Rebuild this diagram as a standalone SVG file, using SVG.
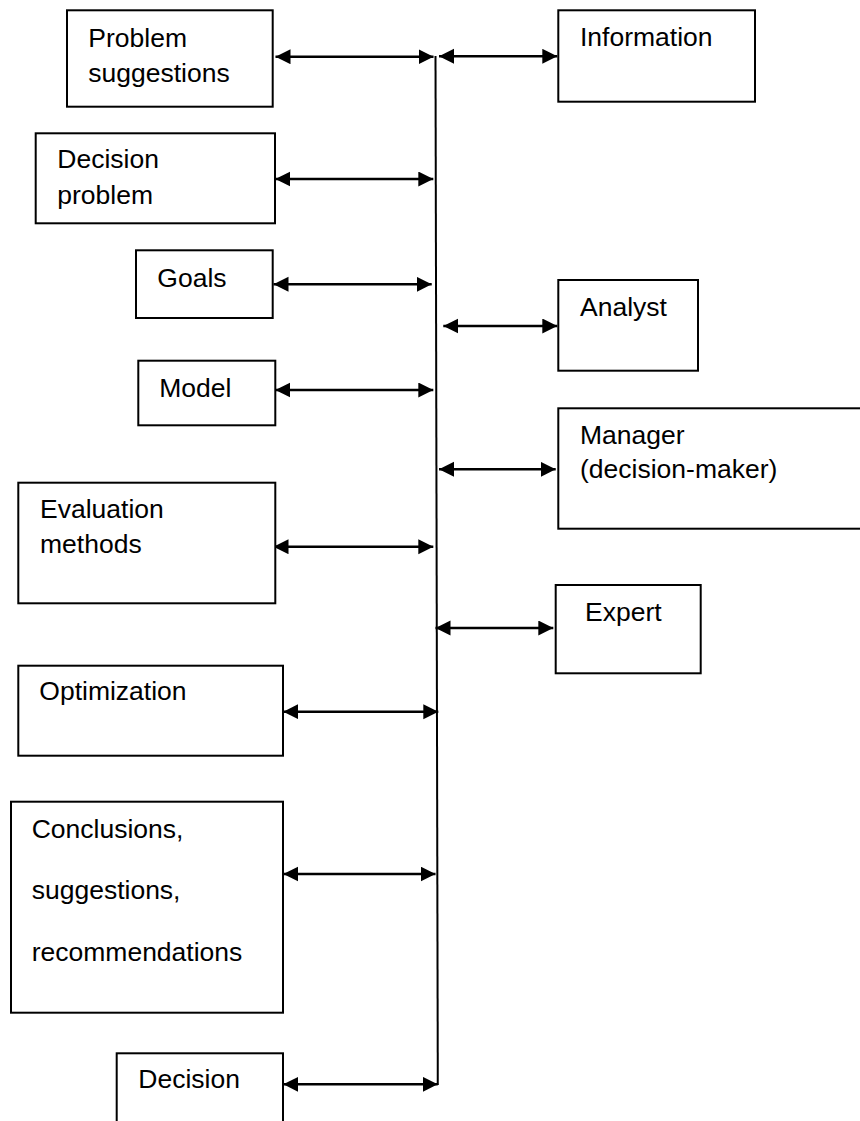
<svg xmlns="http://www.w3.org/2000/svg" width="860" height="1121" viewBox="0 0 860 1121">
<style>
.box{fill:#fff;stroke:#000;stroke-width:2}
.t{font-family:"Liberation Sans",Arial,sans-serif;font-size:26.5px;fill:#000}
.c{stroke:#000;stroke-width:2.5;fill:none;marker-start:url(#ah);marker-end:url(#ah)}
.v{stroke:#000;stroke-width:2;fill:none}
</style>
<defs>
<marker id="ah" markerUnits="userSpaceOnUse" markerWidth="16" markerHeight="16" refX="15" refY="7.5" orient="auto-start-reverse">
<path d="M0,0 L15,7.5 L0,15 z" fill="#000"/>
</marker>
</defs>
<rect width="860" height="1121" fill="#fff"/>
<g id="connectors">
<path class="v" d="M435.5,56 L437.8,1085"/>
<path class="c" d="M275.5,56.7 L433.5,56.7"/>
<path class="c" d="M439,56.3 L557.3,56.3"/>
<path class="c" d="M275.3,179 L433.3,179"/>
<path class="c" d="M273.5,284.3 L431.7,284.3"/>
<path class="c" d="M275.3,390 L433.3,390"/>
<path class="c" d="M443.3,326 L557.3,326"/>
<path class="c" d="M439,469.3 L555.7,469.3"/>
<path class="c" d="M273.5,546.7 L433.3,546.7"/>
<path class="c" d="M435.5,628 L553.3,628"/>
<path class="c" d="M283.3,711.7 L438.3,711.7"/>
<path class="c" d="M283.3,874 L435.5,874"/>
<path class="c" d="M283.3,1084.3 L437.7,1084.3"/>
</g>
<g id="problem-suggestions">
<rect class="box" x="67" y="10.3" width="205.7" height="96.4"/>
<text class="t" x="88.3" y="46.7">Problem</text>
<text class="t" x="88.3" y="81.7">suggestions</text>
</g>
<g id="decision-problem">
<rect class="box" x="35.7" y="133.3" width="239.3" height="90"/>
<text class="t" x="57.3" y="168.3">Decision</text>
<text class="t" x="57.3" y="204">problem</text>
</g>
<g id="goals">
<rect class="box" x="136" y="250.3" width="136.7" height="67.7"/>
<text class="t" x="157.3" y="286.7">Goals</text>
</g>
<g id="model">
<rect class="box" x="138.3" y="360.7" width="137" height="64.6"/>
<text class="t" x="159.3" y="396.7">Model</text>
</g>
<g id="evaluation-methods">
<rect class="box" x="18.3" y="482.7" width="257" height="120.6"/>
<text class="t" x="40" y="518.3">Evaluation</text>
<text class="t" x="40" y="553.3">methods</text>
</g>
<g id="optimization">
<rect class="box" x="18.3" y="665.7" width="264.7" height="90"/>
<text class="t" x="39.3" y="700">Optimization</text>
</g>
<g id="conclusions">
<rect class="box" x="11" y="801.7" width="272" height="211"/>
<text class="t" x="31.7" y="838.3">Conclusions,</text>
<text class="t" x="31.7" y="898.7">suggestions,</text>
<text class="t" x="31.7" y="960.7">recommendations</text>
</g>
<g id="decision">
<rect class="box" x="116.7" y="1053.3" width="166.3" height="90"/>
<text class="t" x="138.3" y="1088.3">Decision</text>
</g>
<g id="information">
<rect class="box" x="558.3" y="10.3" width="196.7" height="91.4"/>
<text class="t" x="580" y="45.7">Information</text>
</g>
<g id="analyst">
<rect class="box" x="558.3" y="280" width="139.7" height="90.7"/>
<text class="t" x="580" y="316">Analyst</text>
</g>
<g id="manager">
<rect class="box" x="558.3" y="408.3" width="320" height="120.4"/>
<text class="t" x="580" y="444">Manager</text>
<text class="t" x="580" y="478.3">(decision-maker)</text>
</g>
<g id="expert">
<rect class="box" x="555.7" y="585" width="145" height="88.3"/>
<text class="t" x="585" y="620.7">Expert</text>
</g>
</svg>
